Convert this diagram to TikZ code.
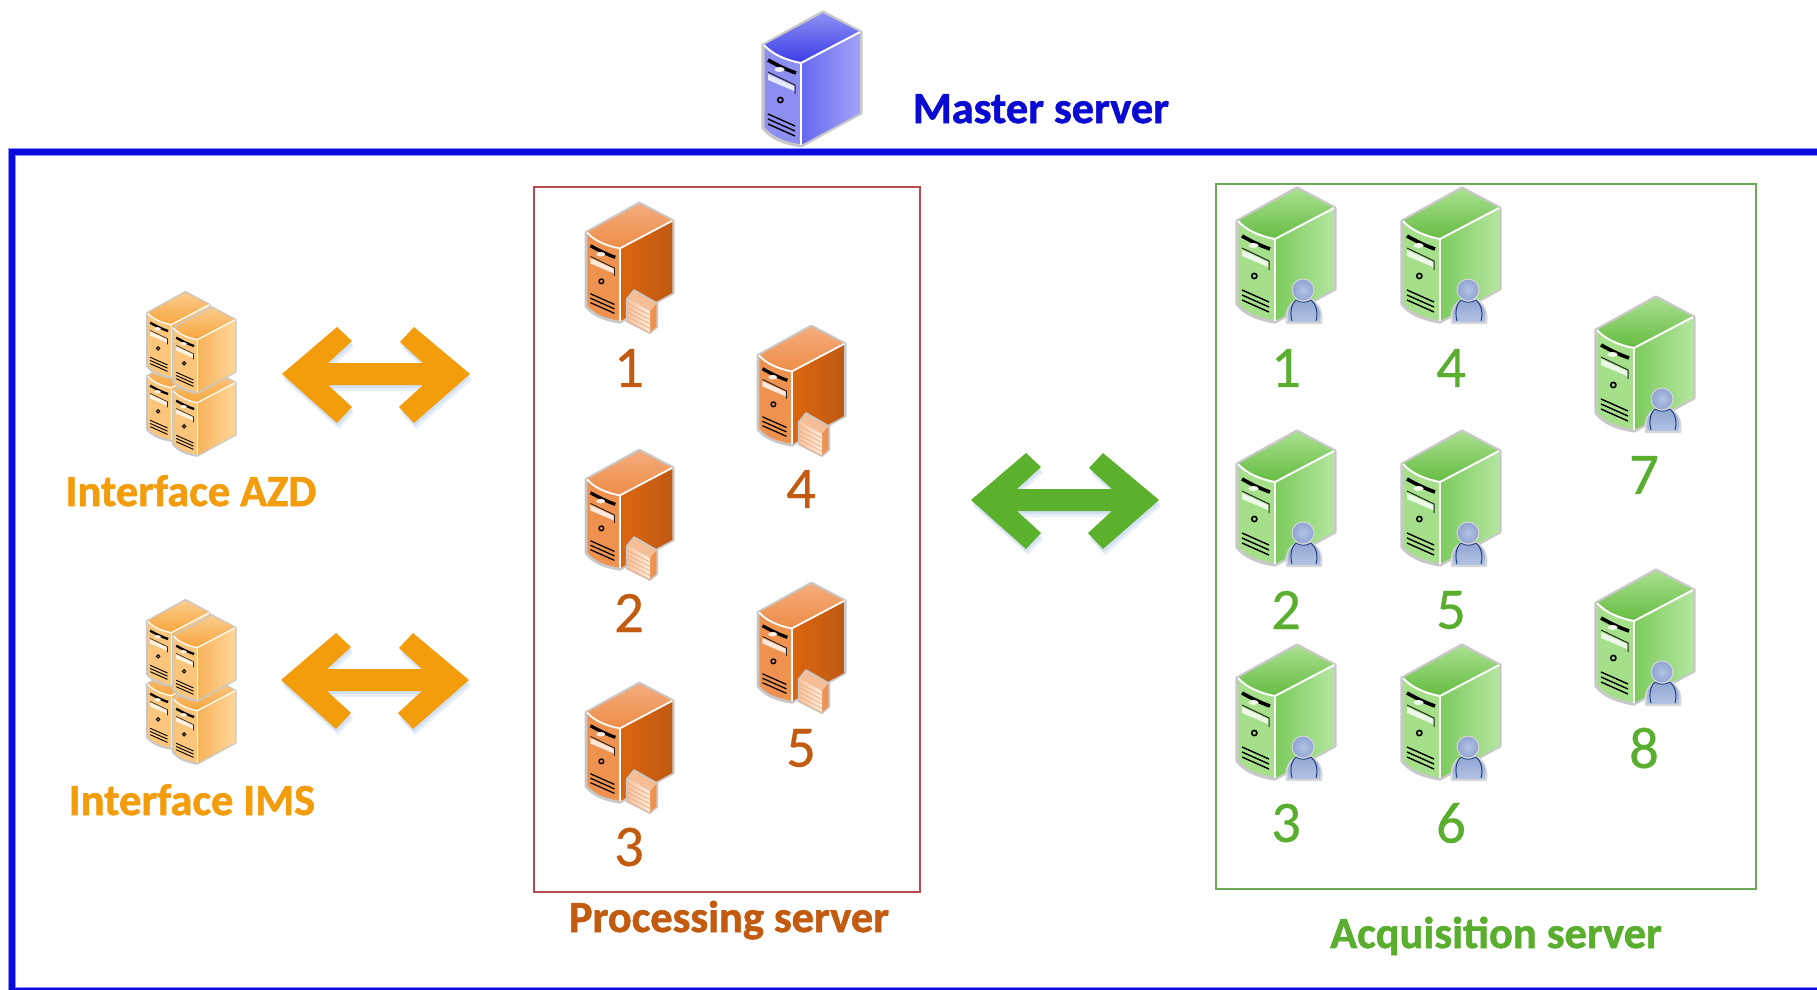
\documentclass[tikz,border=0pt]{standalone}
\usepackage{fontspec}
\setmainfont[BoldFeatures={FakeBold=1.3}]{Carlito}
\newfontfamily\numfont[FakeBold=0.5]{Carlito}
\definecolor{frameblue}{HTML}{0A0ADC}
\definecolor{framehalo}{HTML}{8C90F5}
\definecolor{mastertxt}{HTML}{0A0AD2}
\definecolor{orangetxt}{HTML}{F39C0C}
\definecolor{procbrown}{HTML}{C25A10}
\definecolor{acqgreen}{HTML}{5AAE2E}
\definecolor{procbox}{HTML}{B84A50}
\definecolor{acqbox}{HTML}{6FA855}
\definecolor{arrowgreen}{HTML}{5BB02C}
\definecolor{rimgrey}{HTML}{C8C8C8}
\definecolor{mF}{HTML}{8C8EF2}\definecolor{mA}{HTML}{8E90F4}\definecolor{mB}{HTML}{3A3CE6}\definecolor{mC}{HTML}{6668EE}\definecolor{mD}{HTML}{A2A3F7}
\definecolor{oF}{HTML}{EF9250}\definecolor{oA}{HTML}{F4AC7C}\definecolor{oB}{HTML}{EE8C48}\definecolor{oC}{HTML}{DC6610}\definecolor{oD}{HTML}{BE5A12}
\definecolor{gF}{HTML}{A6DF8A}\definecolor{gA}{HTML}{A8E08E}\definecolor{gB}{HTML}{66BC42}\definecolor{gC}{HTML}{7CCB5C}\definecolor{gD}{HTML}{B4E6A0}
\definecolor{sF}{HTML}{FBC67C}\definecolor{sA}{HTML}{FCCB8C}\definecolor{sB}{HTML}{F6A63E}\definecolor{sC}{HTML}{F7B358}\definecolor{sD}{HTML}{FFD79A}
\tikzset{
  x=1bp,y=-1bp,
  title/.style={font=\bfseries\fontsize{44.6}{44.6}\selectfont,anchor=base,inner sep=0pt},
  numeral/.style={font=\numfont\fontsize{59}{59}\selectfont,anchor=center,inner sep=0pt},
}
% x y scale front topA topB sideA sideB
\newcommand\srvbox[8]{%
 \begin{scope}[shift={(#1,#2)},scale=#3]
  \def\sc{#3}
  \draw[rimgrey,line width=3.2*\sc pt,line join=round,fill=#4]
     (60,0)--(98,20)--(98,101)--(38,134) .. controls (20,131) and (8,126) .. (0,116)--(0,33)--cycle;
  \shade[top color=#5,bottom color=#6]
     (60,1)--(97,20)--(38,51) .. controls (22,48) and (9,42) .. (1,33)--cycle;
  \shade[left color=#7,right color=#8]
     (38,51)--(97,20)--(97,101)--(38,133)--cycle;
  \draw[white,line width=2*\sc pt] (1,33) .. controls (9,42) and (22,48) .. (38,51)--(97,20);
  \draw[white,line width=2*\sc pt] (38,51)--(38,133);
  \draw[black,line width=3.6*\sc pt] (5,48) .. controls (14,53) and (24,58) .. (33,61);
  \fill[white!85!#4] (16.5,57.5) ellipse[x radius=5,y radius=2.5];
  \draw[black!85,line width=1*\sc pt] (5,60)--(32,73)--(32,82);
  \fill[white!80!#4] (5,62)--(31,74)--(31,79)--(5,68)--cycle;
  \draw[black,line width=1.6*\sc pt,fill=#4] (17.3,88) circle[radius=2.6];
  \foreach \d in {0,5,10}{\draw[black,line width=1.4*\sc pt] (5,102+\d)--(32,114+\d);}
 \end{scope}}
\newcommand\firewallbox[3]{%
 \begin{scope}[shift={(#1,#2)},scale=#3]
  \draw[rimgrey,line width=2pt,line join=round,fill=oF!30!white]
    (46,108)--(54,98)--(80,113)--(80,139)--(72,146)--(46,133)--cycle;
  \fill[oF!60!white] (47,108)--(54,99)--(79,113)--(72,121)--cycle;
  \fill[oF] (72,121)--(79,113)--(79,139)--(72,145)--cycle;
  \shade[left color=oF!55!white,right color=oF!15!white] (47,109)--(72,122)--(72,145)--(47,133)--cycle;
  \foreach \d in {0,5,10,15,20}{\draw[oF!75!white,line width=.8pt] (47,113+\d)--(72,126+\d);}
 \end{scope}}
\definecolor{pA}{HTML}{B4C3E4}\definecolor{pB}{HTML}{8FA4D2}\definecolor{pL}{HTML}{1F3F7A}
\newcommand\personbox[2]{%
 \begin{scope}[shift={(#1,#2)}]
  \draw[rimgrey!70!white,line width=2pt,fill=white] (50,135) .. controls (47,120) and (57,110) .. (67,110) .. controls (77,110) and (87,120) .. (84,135)--cycle;
  \shade[top color=pB,bottom color=pA] (51,134) .. controls (48,120) and (57,111) .. (67,111) .. controls (77,111) and (86,120) .. (83,134)--cycle;
  \draw[pL,line width=1pt] (55,133) .. controls (52,122) and (56,114) .. (59,112);
  \draw[pL,line width=1pt] (79,133) .. controls (82,122) and (77,114) .. (74,112);
  \draw[pL,line width=.8pt] (59,112) .. controls (63,115) and (70,115) .. (74,112);
  \draw[rimgrey!70!white,line width=1pt,inner color=pA,outer color=pB] (66,102) circle[radius=11];
 \end{scope}}
\newcommand\dblarrow[3]{%
 \begin{scope}[shift={(#1,#2)}]
  \path[preaction={fill=cyan!40!blue,fill opacity=.10,transform canvas={shift={(2pt,-6pt)}}},
        preaction={fill=cyan!40!blue,fill opacity=.10,transform canvas={shift={(1pt,-3pt)}}},fill=#3]
   (282,374)--(337,327)--(352,341)--(328,363)--(423,363)--(400,342)--(414,327)--(470,374)--(414,423)--(399,407)--(423,385)--(328,385)--(352,407)--(337,423)--cycle;
 \end{scope}}
\newcommand\orangesrv[2]{\srvbox{#1}{#2}{0.89}{oF}{oA}{oB}{oC}{oD}\firewallbox{#1}{#2}{0.89}}
\newcommand\greensrv[2]{\srvbox{#1}{#2}{1}{gF}{gA}{gB}{gC}{gD}\personbox{#1}{#2}}
\newcommand\stacksrv[2]{\srvbox{#1}{#2}{0.64}{sF}{sA}{sB}{sC}{sD}}
\begin{document}
\begin{tikzpicture}
\useasboundingbox (0,0) rectangle (1817,989);
% outer frame
\draw[framehalo,line width=8bp] (1830,151.5)--(11.5,151.5)--(11.5,991)--(1830,991);
\draw[frameblue,line width=6bp] (1830,151.5)--(11.5,151.5)--(11.5,991)--(1830,991);
% master
\srvbox{763}{12}{1}{mF}{mA}{mB}{mC}{mD}
\node[title,text=mastertxt] (master) at (1041,123) {Master server};
% groups
\node[draw=procbox,line width=2bp,minimum width=386bp,minimum height=705bp,inner sep=0pt,anchor=north west] (proc) at (533,185.5) {};
\node[draw=acqbox,line width=2bp,minimum width=540bp,minimum height=705bp,inner sep=0pt,anchor=north west] (acq) at (1215,182.5) {};
% interfaces
\foreach \dy in {0,308}{
 \stacksrv{147}{355+\dy}
 \stacksrv{147}{292+\dy}
 \stacksrv{173}{370+\dy}
 \stacksrv{173}{307+\dy}
}
\node[title,text=orangetxt] (azd) at (191,506) {Interface AZD};
\node[title,text=orangetxt] (ims) at (192,815) {Interface IMS};
% arrows
\dblarrow{0}{0}{orangetxt}
\dblarrow{-1}{306}{orangetxt}
\dblarrow{689}{126}{arrowgreen}
% processing servers
\orangesrv{586}{203}
\orangesrv{586}{450}
\orangesrv{586}{683}
\orangesrv{758}{326}
\orangesrv{758}{583}
\node[numeral,text=procbrown] (p1) at (629,368) {1};
\node[numeral,text=procbrown] (p2) at (629,613) {2};
\node[numeral,text=procbrown] (p3) at (629,847) {3};
\node[numeral,text=procbrown] (p4) at (801,489) {4};
\node[numeral,text=procbrown] (p5) at (801,748) {5};
\node[title,text=procbrown] (proclab) at (729,932) {Processing server};
% acquisition servers
\greensrv{1237}{188}
\greensrv{1237}{431}
\greensrv{1237}{645}
\greensrv{1402}{188}
\greensrv{1402}{431}
\greensrv{1402}{645}
\greensrv{1596}{297}
\greensrv{1596}{570}
\node[numeral,text=acqgreen] (a1) at (1286,368) {1};
\node[numeral,text=acqgreen] (a2) at (1286,610) {2};
\node[numeral,text=acqgreen] (a3) at (1286,823) {3};
\node[numeral,text=acqgreen] (a4) at (1451,368) {4};
\node[numeral,text=acqgreen] (a5) at (1451,610) {5};
\node[numeral,text=acqgreen] (a6) at (1451,823) {6};
\node[numeral,text=acqgreen] (a7) at (1644,475) {7};
\node[numeral,text=acqgreen] (a8) at (1644,748) {8};
\node[title,text=acqgreen] (acqlab) at (1496,948) {Acquisition server};
\end{tikzpicture}
\end{document}
